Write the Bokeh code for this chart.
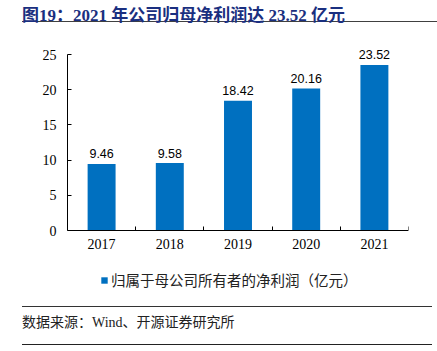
from bokeh.plotting import figure
from bokeh.models import Div, FixedTicker, Legend, LegendItem, Range1d, ColumnDataSource
from bokeh.layouts import column
from bokeh.core.properties import value
from bokeh.embed import file_html
from bokeh.resources import INLINE

# ---- data ----
years = [2017, 2018, 2019, 2020, 2021]
profit = [9.46, 9.58, 18.42, 20.16, 23.52]
y_ticks = [0, 5, 10, 15, 20, 25]
series_name = "归属于母公司所有者的净利润（亿元）"
title_text = "图19：2021 年公司归母净利润达 23.52 亿元"
source_text = "数据来源：Wind、开源证券研究所"

labels = [f"{v:.2f}" for v in profit]
src = ColumnDataSource(dict(x=years, y=profit, lab=labels))

BLUE = "#0070C0"

title_div = Div(
    text=(
        '<div style="margin-left:22px;width:415px;height:22px;padding-top:6px;'
        'border-bottom:1px solid #404040;font-weight:bold;font-size:17px;line-height:20px;'
        "font-family:'Liberation Serif','Noto Sans CJK SC',serif;color:#1a2f80;white-space:nowrap;\">"
        + title_text + "</div>"
    ),
    width=437, height=30, margin=(0, 0, 0, 0),
)

p = figure(
    width=437, height=270, output_backend="svg", toolbar_location=None,
    x_range=Range1d(years[0] - 0.5, years[-1] + 0.5), y_range=Range1d(-9.94, 28.41),
    min_border_left=67, min_border_right=29, min_border_top=0, min_border_bottom=0,
    margin=(0, 0, 0, 0),
)
p.outline_line_color = None
p.xgrid.grid_line_color = None
p.ygrid.grid_line_color = None

r = p.vbar(x="x", top="y", width=0.41, source=src, fill_color=BLUE, line_color=None)
p.text(x="x", y="y", text="lab", source=src, text_align="center", text_baseline="alphabetic",
       y_offset=-10, text_font=value("Liberation Sans"), text_font_size="12.5px", text_color="#000000")

# x axis: drawn at y=0, labels at years, small inward ticks at category boundaries
p.xaxis.fixed_location = 0
p.xaxis.ticker = FixedTicker(ticks=years, minor_ticks=[y - 0.5 for y in years] + [years[-1] + 0.5])
p.xaxis.major_tick_in = 0
p.xaxis.major_tick_out = 0
p.xaxis.minor_tick_in = 4
p.xaxis.minor_tick_out = 0
p.xaxis.minor_tick_line_color = "#000000"
p.xaxis.major_label_standoff = 8
p.xaxis.axis_line_color = "#000000"

p.yaxis.ticker = FixedTicker(ticks=y_ticks)
p.yaxis.bounds = (0, 25)
p.yaxis.major_tick_in = 4
p.yaxis.major_tick_out = 0
p.yaxis.minor_tick_line_color = None
p.yaxis.major_label_standoff = 11
p.yaxis.axis_line_color = "#000000"
p.yaxis.major_tick_line_color = "#000000"

for ax in (p.xaxis, p.yaxis):
    ax.major_label_text_font = "Liberation Serif"
    ax.major_label_text_font_size = "14px"
    ax.major_label_text_color = "#000000"

legend = Legend(items=[LegendItem(label=series_name, renderers=[r])], location=(33, 10),
                orientation="horizontal", border_line_color=None, background_fill_alpha=0,
                glyph_width=8, glyph_height=8, label_text_font="Noto Sans CJK SC",
                label_text_font_size="14.5px", label_text_color="#222222",
                padding=2, margin=0, label_standoff=3)
p.add_layout(legend)

bottom_div = Div(
    text=(
        '<div style="margin-left:22px;margin-top:6px;width:410px;height:39px;'
        'border-top:1px solid #333333;border-bottom:1.5px solid #222222;'
        "font-size:14px;line-height:20px;padding-top:0px;"
        "font-family:'Liberation Serif','Noto Sans CJK SC',serif;color:#222222;white-space:nowrap;\">"
        '<div style="padding-top:6px;">' + source_text + "</div></div>"
    ),
    width=437, height=51, margin=(0, 0, 0, 0),
)

layout = column(title_div, p, bottom_div, spacing=0)
open("out.html", "w").write(file_html(layout, INLINE))
